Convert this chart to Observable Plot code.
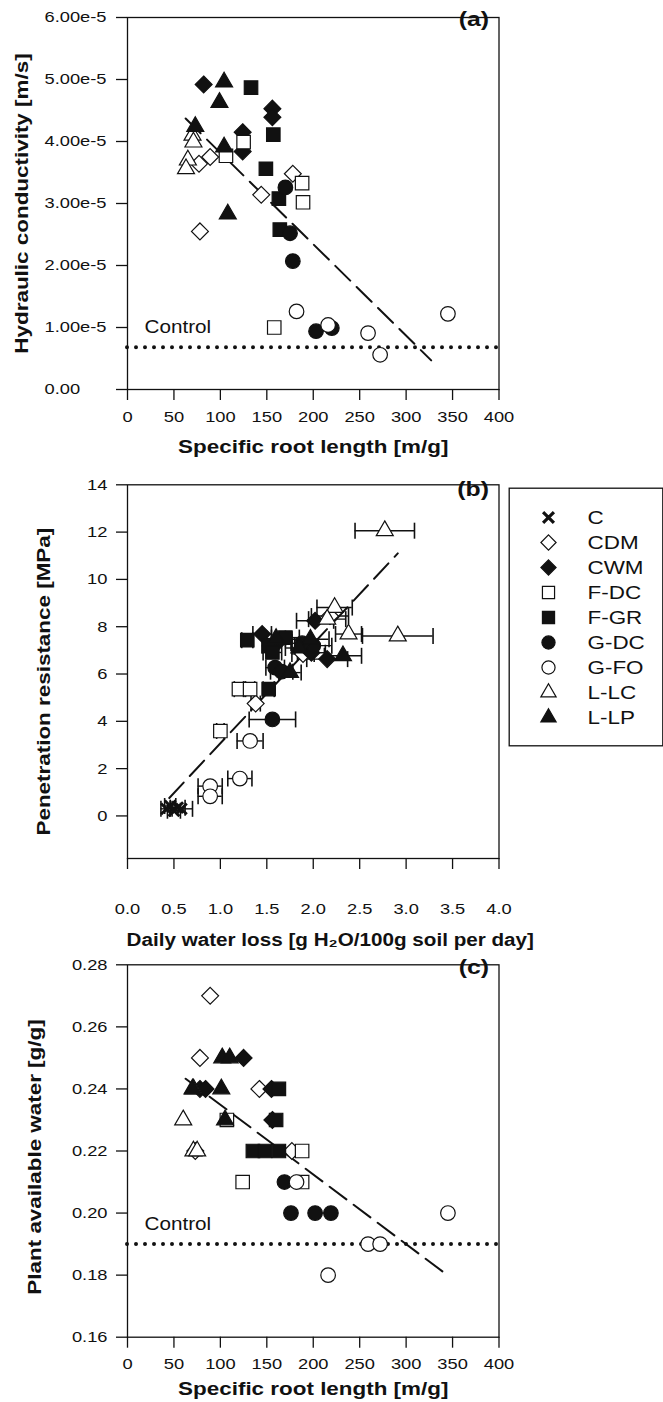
<!DOCTYPE html>
<html>
<head>
<meta charset="utf-8">
<script src="https://cdn.jsdelivr.net/npm/d3@7"></script>
<script src="https://cdn.jsdelivr.net/npm/@observablehq/plot@0.6"></script>
<style>
html,body{margin:0;padding:0;background:#fff;}
#root{position:relative;width:663px;height:1402px;overflow:hidden;background:#fff;}
#root svg{position:absolute;left:0;overflow:visible;}
</style>
</head>
<body>
<div id="root"></div>
<script>
// ---------------- data ----------------
const groups = ["C", "CDM", "CWM", "F-DC", "F-GR", "G-DC", "G-FO", "L-LC", "L-LP"];

// Panel (a): specific root length [m/g] vs hydraulic conductivity [m/s]
const aGroup = [
  "CDM","CDM","CDM","CDM","CDM",
  "CWM","CWM","CWM","CWM","CWM",
  "F-DC","F-DC","F-DC","F-DC","F-DC",
  "F-GR","F-GR","F-GR","F-GR","F-GR",
  "G-DC","G-DC","G-DC","G-DC","G-DC",
  "G-FO","G-FO","G-FO","G-FO","G-FO",
  "L-LC","L-LC","L-LC","L-LC",
  "L-LP","L-LP","L-LP","L-LP","L-LP"
];
const aSRL = [
  77, 89, 144, 178, 78,
  82, 156, 156, 124, 124,
  125, 106, 188, 189, 158,
  133, 157, 149, 163, 164,
  170, 175, 178, 203, 220,
  182, 216, 259, 272, 345,
  70, 71, 65, 63,
  104, 99, 73, 104, 108
];
const aKs = [
  3.64e-5, 3.75e-5, 3.14e-5, 3.48e-5, 2.55e-5,
  4.92e-5, 4.53e-5, 4.39e-5, 4.15e-5, 3.84e-5,
  3.99e-5, 3.77e-5, 3.33e-5, 3.02e-5, 1.00e-5,
  4.87e-5, 4.11e-5, 3.56e-5, 3.08e-5, 2.58e-5,
  3.26e-5, 2.52e-5, 2.07e-5, 0.94e-5, 0.99e-5,
  1.26e-5, 1.04e-5, 0.91e-5, 0.56e-5, 1.22e-5,
  4.10e-5, 3.99e-5, 3.70e-5, 3.56e-5,
  4.96e-5, 4.63e-5, 4.24e-5, 3.91e-5, 2.83e-5
];
const aControl = 0.68e-5;
const aFitX = [62.6, 327];
const aFitY = [4.37e-5, 0.47e-5];
const aYTicks = [0, 1e-5, 2e-5, 3e-5, 4e-5, 5e-5, 6e-5];
const aYTickLabels = ["0.00", "1.00e-5", "2.00e-5", "3.00e-5", "4.00e-5", "5.00e-5", "6.00e-5"];

// Panel (b): daily water loss vs penetration resistance, with x error bars
const bGroup = [
  "C","C","C","C","C",
  "CDM","CDM","CDM",
  "CWM","CWM","CWM","CWM","CWM",
  "F-DC","F-DC","F-DC",
  "F-GR","F-GR","F-GR","F-GR","F-GR",
  "G-DC","G-DC","G-DC","G-DC","G-DC",
  "G-FO","G-FO","G-FO","G-FO",
  "L-LC","L-LC","L-LC","L-LC","L-LC",
  "L-LP","L-LP","L-LP","L-LP","L-LP"
];
const bLoss = [
  0.42, 0.46, 0.50, 0.54, 0.58,
  1.38, 1.89, 2.18,
  1.45, 2.02, 2.15, 1.62, 1.98,
  1.00, 1.20, 1.32,
  1.29, 1.52, 1.70, 1.56, 1.52,
  1.59, 1.66, 1.56, 2.00, 1.88,
  0.89, 0.89, 1.21, 1.32,
  2.77, 2.23, 2.15, 2.38, 2.91,
  1.75, 1.97, 2.32, 1.85, 1.60
];
const bLossErr = [
  0.06, 0.06, 0.07, 0.08, 0.12,
  0.05, 0.12, 0.20,
  0.10, 0.20, 0.22, 0.15, 0.15,
  0.04, 0.05, 0.05,
  0.06, 0.07, 0.15, 0.10, 0.06,
  0.10, 0.12, 0.25, 0.20, 0.12,
  0.13, 0.13, 0.13, 0.14,
  0.32, 0.19, 0.20, 0.14, 0.38,
  0.12, 0.20, 0.20, 0.15, 0.10
];
const bPR = [
  0.30, 0.42, 0.22, 0.35, 0.30,
  4.75, 6.85, 8.45,
  7.69, 8.25, 6.63, 7.35, 6.90,
  3.59, 5.36, 5.36,
  7.43, 7.19, 7.54, 6.91, 5.36,
  6.27, 6.10, 4.08, 7.20, 7.30,
  1.26, 0.83, 1.58, 3.17,
  12.06, 8.81, 8.32, 7.69, 7.61,
  6.06, 7.47, 6.77, 7.10, 7.50
];
const bFitX = [0.45, 2.91];
const bFitY = [0.76, 11.1];
const bYTicks = [0, 2, 4, 6, 8, 10, 12, 14];
const bYTickLabels = ["0", "2", "4", "6", "8", "10", "12", "14"];
const bXTicks = [0, 0.5, 1, 1.5, 2, 2.5, 3, 3.5, 4];
const bXTickLabels = ["0.0", "0.5", "1.0", "1.5", "2.0", "2.5", "3.0", "3.5", "4.0"];

// Panel (c): specific root length vs plant available water
const cGroup = [
  "CDM","CDM","CDM","CDM","CDM",
  "CWM","CWM","CWM","CWM","CWM",
  "F-DC","F-DC","F-DC","F-DC",
  "F-GR","F-GR","F-GR","F-GR","F-GR",
  "G-DC","G-DC","G-DC","G-DC",
  "G-FO","G-FO","G-FO","G-FO","G-FO",
  "L-LC","L-LC","L-LC","L-LC",
  "L-LP","L-LP","L-LP","L-LP","L-LP"
];
const cSRL = [
  89, 78, 142, 73, 177,
  125, 78, 84, 155, 156,
  107, 188, 124, 188,
  163, 160, 135, 148, 163,
  169, 176, 202, 219,
  182, 259, 272, 216, 345,
  71, 60, 71, 75,
  102, 110, 70, 101, 105
];
const cPAW = [
  0.27, 0.25, 0.24, 0.22, 0.22,
  0.25, 0.24, 0.24, 0.24, 0.23,
  0.23, 0.22, 0.21, 0.21,
  0.24, 0.23, 0.22, 0.22, 0.22,
  0.21, 0.20, 0.20, 0.20,
  0.21, 0.19, 0.19, 0.18, 0.20,
  0.24, 0.23, 0.22, 0.22,
  0.25, 0.25, 0.24, 0.24, 0.23
];
const cControl = 0.19;
const cFitX = [62.6, 340];
const cFitY = [0.2433, 0.181];
const cYTicks = [0.16, 0.18, 0.20, 0.22, 0.24, 0.26, 0.28];
const cYTickLabels = ["0.16", "0.18", "0.20", "0.22", "0.24", "0.26", "0.28"];

const srlTicks = [0, 50, 100, 150, 200, 250, 300, 350, 400];
const srlTickLabels = ["0", "50", "100", "150", "200", "250", "300", "350", "400"];

const titles = {
  a: "(a)", b: "(b)", c: "(c)",
  aY: "Hydraulic conductivity [m/s]",
  bY: "Penetration resistance [MPa]",
  cY: "Plant available water [g/g]",
  srl: "Specific root length [m/g]",
  bX: "Daily water loss [g H\u2082O/100g soil per day]",
  control: "Control"
};

// ---------------- styles ----------------
const FONT = '"Liberation Sans", Arial, Helvetica, sans-serif';
const ink = "#111";
const STRETCH = 1.18;
const symbolStyle = {
  "C":    {symbol: "times",    filled: true,  r: 5},
  "CDM":  {symbol: "diamond2", filled: false, r: 7.6},
  "CWM":  {symbol: "diamond2", filled: true,  r: 7.6},
  "F-DC": {symbol: "square",   filled: false, r: 7.6},
  "F-GR": {symbol: "square",   filled: true,  r: 7.6},
  "G-DC": {symbol: "circle",   filled: true,  r: 7.3},
  "G-FO": {symbol: "circle",   filled: false, r: 7.3},
  "L-LC": {symbol: "triangle", filled: false, r: 6.3},
  "L-LP": {symbol: "triangle", filled: true,  r: 6.3}
};
const capSymbol = {draw(ctx) { ctx.moveTo(0, -8); ctx.lineTo(0, 8); }};

function groupDots(G, X, Y, scale = 1) {
  return groups.map(g => {
    const idx = d3.range(G.length).filter(i => G[i] === g);
    if (!idx.length) return null;
    const s = symbolStyle[g];
    if (s.symbol === "times") {
      return Plot.dot(idx, {x: i => X[i], y: i => Y[i], symbol: "times", r: s.r * scale,
        stroke: ink, strokeWidth: 2.8, fill: "none"});
    }
    return Plot.dot(idx, {x: i => X[i], y: i => Y[i], symbol: s.symbol, r: s.r * scale,
      fill: s.filled ? ink : "white", stroke: ink, strokeWidth: 1.2});
  }).filter(Boolean);
}

function labelFrom(ticks, labels) { return d => labels[ticks.indexOf(d)]; }

const root = document.getElementById("root");

function place(svg, top) {
  svg.style.top = top + "px";
  root.appendChild(svg);
  svg.querySelectorAll("text").forEach(t => {
    const L = t.getComputedTextLength();
    if (L > 0) {
      t.setAttribute("textLength", (L * STRETCH).toFixed(1));
      t.setAttribute("lengthAdjust", "spacingAndGlyphs");
    }
  });
}

const common = {
  width: 663,
  marginLeft: 127,
  marginRight: 164.5,
  style: {fontFamily: FONT, fontSize: "15.5px", color: ink, background: "none", overflow: "visible"}
};
const axisStyle = {tickSize: 11, strokeWidth: 1.3, fontSize: 15.5, label: null};
const yTitleStyle = {frameAnchor: "left", textAnchor: "middle", lineAnchor: "middle", rotate: -90, fontWeight: "bold", fontSize: 19};
const xTitleStyle = {frameAnchor: "bottom", textAnchor: "middle", lineAnchor: "middle", fontWeight: "bold", fontSize: 19};
const tagStyle = {frameAnchor: "top-right", lineAnchor: "middle", textAnchor: "end", fontWeight: "bold", fontSize: 21, dx: -10};

// ---------------- panel (a) ----------------
const panelA = Plot.plot({
  ...common,
  height: 460, marginTop: 17, marginBottom: 71,
  x: {domain: [0, 400]},
  y: {domain: [0, 6e-5]},
  marks: [
    Plot.axisX({...axisStyle, ticks: srlTicks, tickFormat: labelFrom(srlTicks, srlTickLabels), tickPadding: 10}),
    Plot.axisY({...axisStyle, ticks: aYTicks, tickFormat: labelFrom(aYTicks, aYTickLabels), tickPadding: 72, textAnchor: "start"}),
    Plot.frame({stroke: ink, strokeWidth: 1.3}),
    Plot.ruleY([aControl], {stroke: ink, strokeWidth: 4, strokeDasharray: "0 9", strokeLinecap: "round"}),
    Plot.text([titles.control], {x: 0, y: aControl, dx: 17, dy: -20, textAnchor: "start", fontSize: 17.5}),
    Plot.line(d3.range(aFitX.length), {x: i => aFitX[i], y: i => aFitY[i], stroke: ink, strokeWidth: 2, strokeDasharray: "21 9"}),
    ...groupDots(aGroup, aSRL, aKs),
    Plot.text([titles.aY], {...yTitleStyle, dx: -106}),
    Plot.text([titles.srl], {...xTitleStyle, dy: 57}),
    Plot.text([titles.a], {...tagStyle, dy: 2})
  ]
});
place(panelA, 0);

// ---------------- panel (b) ----------------
const bIdx = d3.range(bGroup.length);
const panelB = Plot.plot({
  ...common,
  height: 500, marginTop: 24.3, marginBottom: 102,
  x: {domain: [0, 4]},
  y: {domain: [-1.8, 14]},
  marks: [
    Plot.axisX({...axisStyle, ticks: bXTicks, tickFormat: labelFrom(bXTicks, bXTickLabels), tickPadding: 33}),
    Plot.axisY({...axisStyle, ticks: bYTicks, tickFormat: labelFrom(bYTicks, bYTickLabels), tickPadding: 9}),
    Plot.frame({stroke: ink, strokeWidth: 1.3}),
    Plot.line(d3.range(bFitX.length), {x: i => bFitX[i], y: i => bFitY[i], stroke: ink, strokeWidth: 2, strokeDasharray: "21 9"}),
    Plot.ruleY(bIdx, {y: i => bPR[i], x1: i => bLoss[i] - bLossErr[i], x2: i => bLoss[i] + bLossErr[i], stroke: ink, strokeWidth: 1.4}),
    Plot.dot(bIdx, {x: i => bLoss[i] - bLossErr[i], y: i => bPR[i], symbol: capSymbol, stroke: ink, strokeWidth: 1.6, fill: "none"}),
    Plot.dot(bIdx, {x: i => bLoss[i] + bLossErr[i], y: i => bPR[i], symbol: capSymbol, stroke: ink, strokeWidth: 1.6, fill: "none"}),
    ...groupDots(bGroup, bLoss, bPR),
    Plot.text([titles.bY], {...yTitleStyle, dx: -84, dy: 10}),
    Plot.text([titles.bX], {...xTitleStyle, dx: 17, dy: 82, fontSize: 17.5}),
    Plot.text([titles.b], {...tagStyle, dy: 4})
  ]
});
place(panelB, 460);

// ---------------- panel (c) ----------------
const panelC = Plot.plot({
  ...common,
  height: 442, marginTop: 4.3, marginBottom: 65.3,
  x: {domain: [0, 400]},
  y: {domain: [0.16, 0.28]},
  marks: [
    Plot.axisX({...axisStyle, ticks: srlTicks, tickFormat: labelFrom(srlTicks, srlTickLabels), tickPadding: 10}),
    Plot.axisY({...axisStyle, ticks: cYTicks, tickFormat: labelFrom(cYTicks, cYTickLabels), tickPadding: 9}),
    Plot.frame({stroke: ink, strokeWidth: 1.3}),
    Plot.ruleY([cControl], {stroke: ink, strokeWidth: 4, strokeDasharray: "0 9", strokeLinecap: "round"}),
    Plot.text([titles.control], {x: 0, y: cControl, dx: 17, dy: -20, textAnchor: "start", fontSize: 17.5}),
    Plot.line(d3.range(cFitX.length), {x: i => cFitX[i], y: i => cFitY[i], stroke: ink, strokeWidth: 2, strokeDasharray: "21 9"}),
    ...groupDots(cGroup, cSRL, cPAW),
    Plot.text([titles.cY], {...yTitleStyle, dx: -93, dy: 6}),
    Plot.text([titles.srl], {...xTitleStyle, dy: 52}),
    Plot.text([titles.c], {...tagStyle, dy: 2})
  ]
});
place(panelC, 960);

// ---------------- legend ----------------
const legend = Plot.plot({
  width: 155, height: 259, margin: 0,
  style: {fontFamily: FONT, fontSize: "19px", color: ink, background: "white", overflow: "visible"},
  x: {domain: [0, 1], axis: null},
  y: {type: "point", domain: groups, range: [26, 233], padding: 0, axis: null},
  marks: [
    Plot.frame({stroke: ink, strokeWidth: 1.3, inset: 0.7}),
    ...groups.map(g => {
      const s = symbolStyle[g];
      return s.symbol === "times"
        ? Plot.dot([g], {y: d => d, frameAnchor: "left", dx: 40, symbol: "times", r: 5, stroke: ink, strokeWidth: 3.2, fill: "none"})
        : Plot.dot([g], {y: d => d, frameAnchor: "left", dx: 40, symbol: s.symbol, r: s.r * 0.9, fill: s.filled ? ink : "white", stroke: ink, strokeWidth: 1.2});
    }),
    Plot.text(groups, {y: d => d, frameAnchor: "left", dx: 79, textAnchor: "start", lineAnchor: "middle", fontSize: 19})
  ]
});
legend.style.left = "508px";
place(legend, 487);
</script>
</body>
</html>
